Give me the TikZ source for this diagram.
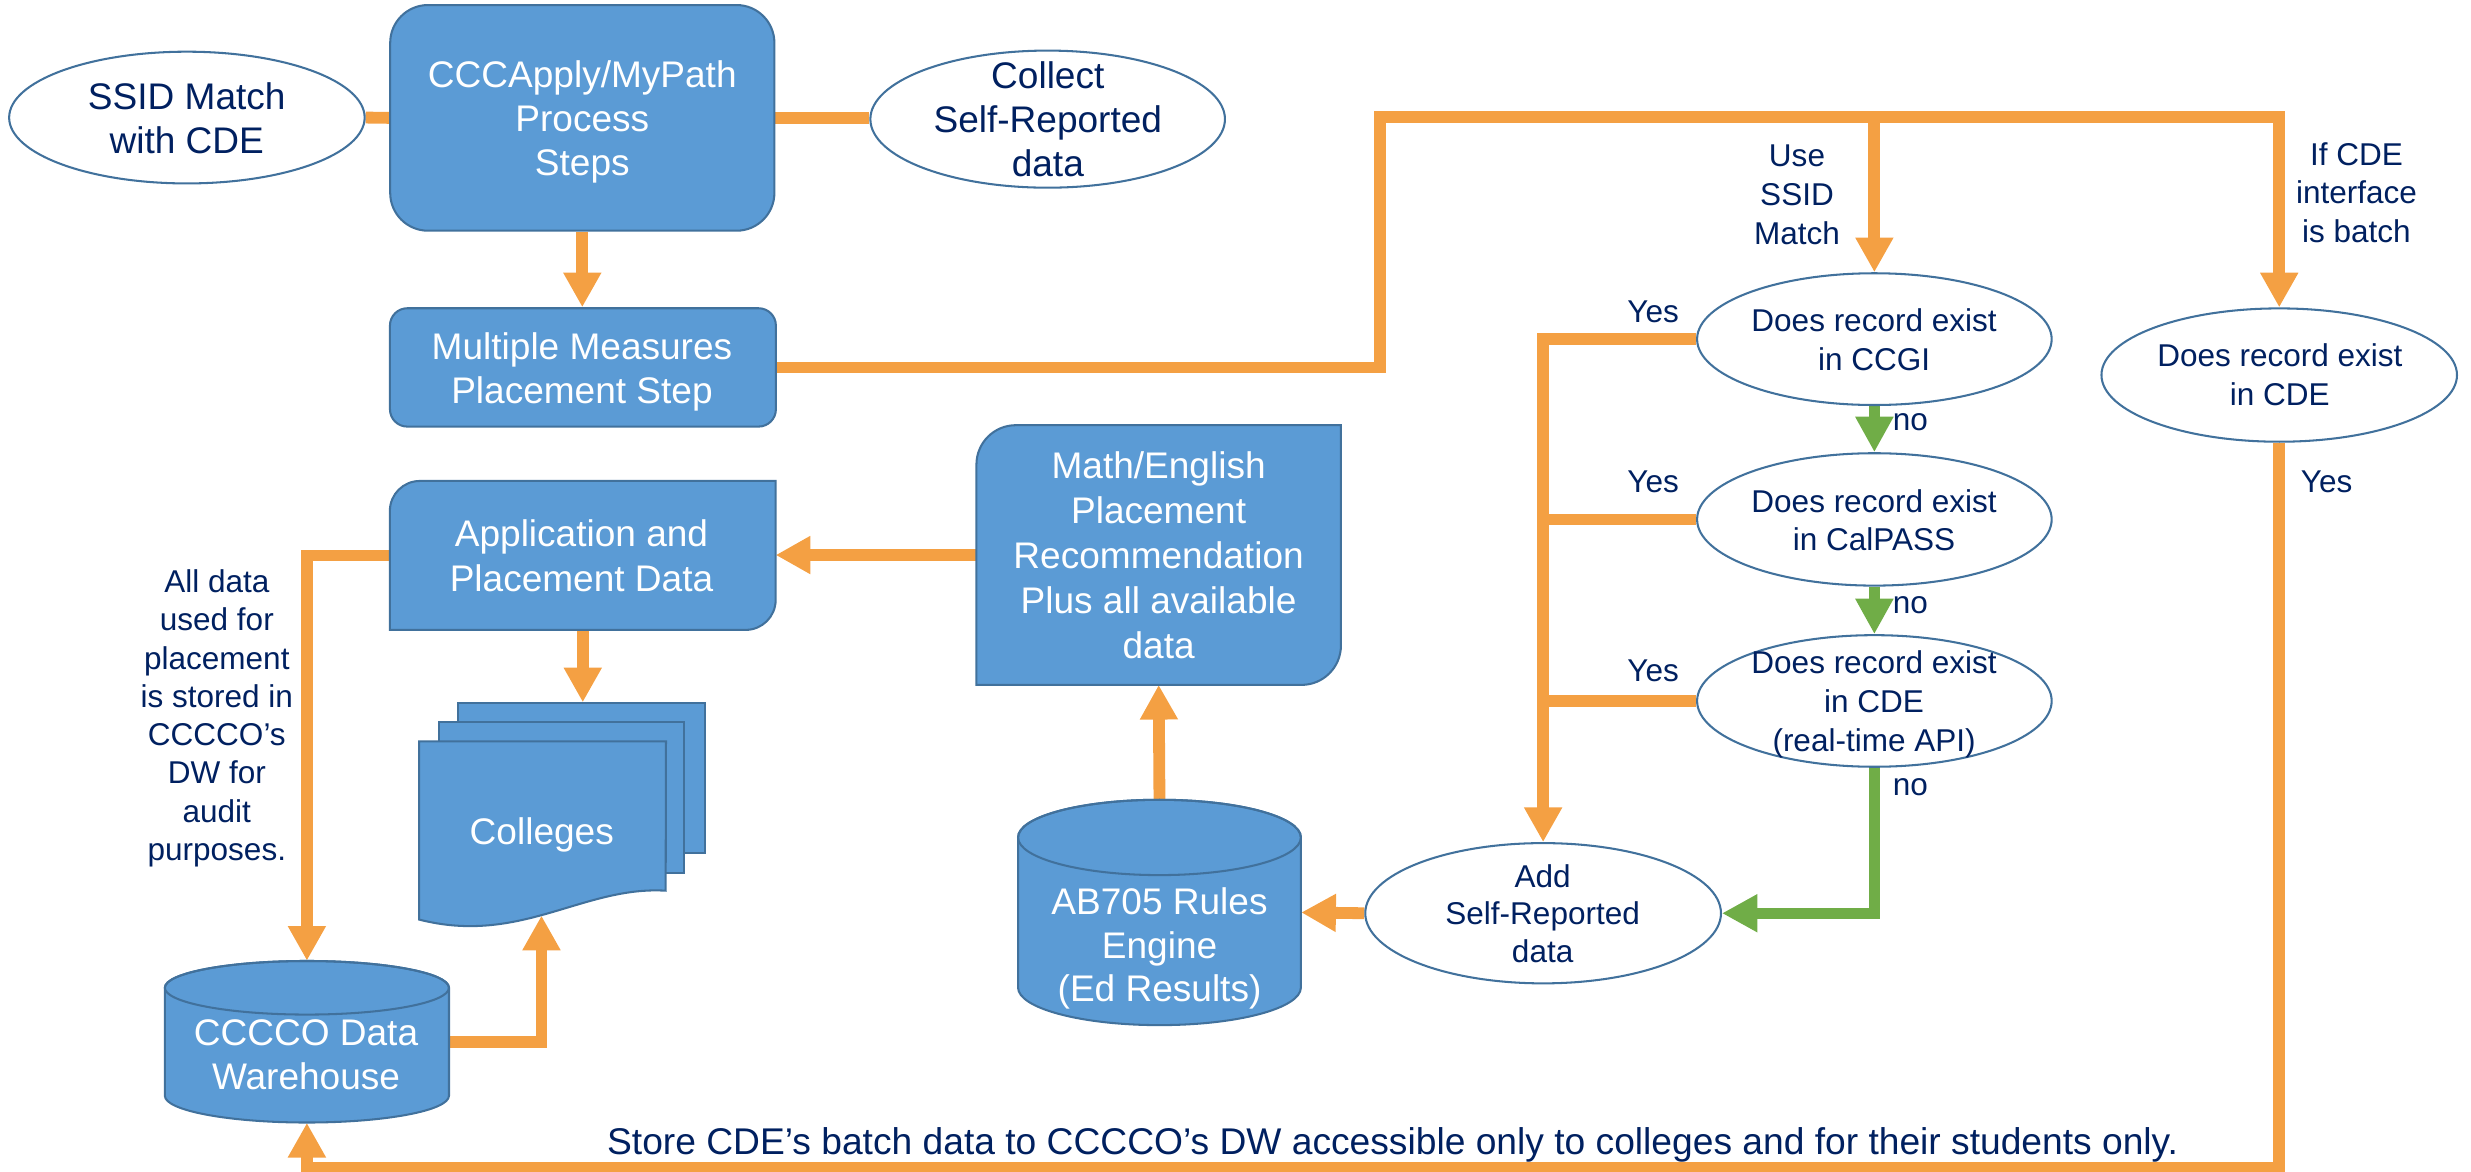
\documentclass[tikz,border=0pt]{standalone}
\usepackage{fontspec}
\setmainfont{Liberation Sans}
\usetikzlibrary{arrows.meta,shapes.geometric,calc}
\definecolor{bfill}{HTML}{5B9BD5}
\definecolor{bline}{HTML}{41719C}
\definecolor{orng}{HTML}{F4A043}
\definecolor{grn}{HTML}{70AD47}
\definecolor{navy}{HTML}{002060}
\pgfdeclarelayer{bg}
\pgfsetlayers{bg,main}
\tikzset{
  bluebox/.style={draw=bline, fill=bfill, line width=1.3pt, inner sep=0pt},
  oval/.style={ellipse, draw=bline, fill=white, line width=1.3pt, inner sep=0pt},
  region/.style={rectangle, inner sep=0pt, draw=none},
  wtext/.style={text=white, align=center, inner sep=0pt, font=\fontsize{23.5pt}{28.3pt}\selectfont},
  nbig/.style={text=navy, align=center, inner sep=0pt, font=\fontsize{23.5pt}{28.3pt}\selectfont},
  ntext/.style={text=navy, align=center, inner sep=0pt, font=\fontsize{20pt}{24.4pt}\selectfont},
  oline/.style={draw=orng, line width=7.5pt},
  oarrow/.style={oline, -{Triangle[width=22.7pt,length=22pt]}},
  garrow/.style={draw=grn, line width=7pt, -{Triangle[width=22.7pt,length=22.5pt]}},
}
\begin{document}
\begin{tikzpicture}[x=1pt,y=-1pt]
\useasboundingbox (0,0) rectangle (1568,743.7);

% ---------- shapes ----------
\node[bluebox, rounded corners=24pt, minimum width=243.8pt, minimum height=143.2pt] (ccc) at (369.5,74.8) {};
\node[bluebox, rounded corners=11pt, minimum width=244.9pt, minimum height=75.1pt] (mm) at (369.9,233.15) {};
\node[oval, minimum width=225.6pt, minimum height=83.6pt] (ssid) at (118.6,74.6) {};
\node[oval, minimum width=225pt, minimum height=87pt] (coll) at (664.8,75.6) {};
\node[oval, minimum width=225pt, minimum height=83.6pt] (ccgi) at (1189.4,215.2) {};
\node[oval, minimum width=225pt, minimum height=84pt] (calp) at (1189.4,329.6) {};
\node[oval, minimum width=225pt, minimum height=83.5pt] (cdert) at (1189.4,444.8) {};
\node[oval, minimum width=225.6pt, minimum height=84.6pt] (cdeb) at (1446.3,238) {};
\node[oval, minimum width=225.7pt, minimum height=89pt] (adds) at (979.2,579.5) {};

\node[region, minimum width=244.4pt, minimum height=94.1pt] (app) at (369.8,352.45) {};
\node[region, minimum width=230.9pt, minimum height=164.4pt] (math) at (735.25,352.2) {};
\node[region, minimum width=179.5pt, minimum height=143pt] (ab) at (735.75,579) {};
\node[region, minimum width=180.3pt, minimum height=102.5pt] (dw) at (194.75,661.05) {};
\node[bluebox, minimum width=156.5pt, minimum height=95.2pt] (colb) at (369.05,493.9) {};
\node[bluebox, minimum width=155.2pt, minimum height=95.4pt] (colm) at (356.4,506) {};
\node[region, minimum width=156.3pt, minimum height=112.7pt] (colf) at (344.25,526.95) {};

% application and math boxes: round diagonal corners
\filldraw[bluebox] ($(app.north west)+(0,19)$) arc[start angle=180,end angle=90,radius=19pt]
  -- (app.north east) -- ($(app.south east)+(0,-19)$) arc[start angle=0,end angle=-90,radius=19pt]
  -- (app.south west) -- cycle;
\filldraw[bluebox] ($(math.north west)+(0,25)$) arc[start angle=180,end angle=90,radius=25pt]
  -- (math.north east) -- ($(math.south east)+(0,-25)$) arc[start angle=0,end angle=-90,radius=25pt]
  -- (math.south west) -- cycle;

% colleges front page (document shape)
\filldraw[bluebox] (colf.north west) -- (colf.north east) -- (422.4,565.2)
  .. controls (370,562) and (330,600) .. (colf.south west) -- cycle;

% cylinders
\filldraw[bluebox] (646,531.4) -- (646,626.6) arc[start angle=180,end angle=360,x radius=89.75pt,y radius=23.9pt]
  -- (825.5,531.4) arc[start angle=0,end angle=180,x radius=89.75pt,y radius=23.9pt] -- cycle;
\draw[draw=bline,line width=1.3pt] (735.75,531.4) ellipse[x radius=89.75pt,y radius=23.9pt];
\filldraw[bluebox] (104.6,626.8) -- (104.6,695.3) arc[start angle=180,end angle=360,x radius=90.15pt,y radius=17pt]
  -- (284.9,626.8) arc[start angle=0,end angle=180,x radius=90.15pt,y radius=17pt] -- cycle;
\draw[draw=bline,line width=1.3pt] (194.75,626.8) ellipse[x radius=90.15pt,y radius=17pt];

% ---------- connectors ----------
\coordinate (j1) at (875.9,74);
\coordinate (colin) at (343.6,581);
\coordinate (bot) at (1446.3,741);
\begin{pgfonlayer}{bg}
\draw[oline] (ssid.east) -- (ccc.west);
\draw[oline] (ccc.east) -- (ccc.east -| coll.west);
\draw[oarrow] (ccc.south) -- (ccc.south |- mm.north);
\draw[oarrow] (mm.east) -| (j1) -| (cdeb.north);
\draw[oarrow] (j1 -| ccgi.north) -- (ccgi.north);
\draw[garrow] (ccgi.south) -- (calp.north);
\draw[garrow] (calp.south) -- (cdert.north);
\draw[garrow] (cdert.south) |- (adds.east);
\draw[oarrow] (ccgi.west) -| (adds.north);
\draw[oline] (calp.west) -- (calp.west -| adds.north);
\draw[oline] (cdert.west) -- (cdert.west -| adds.north);
\draw[oarrow] (adds.west) -- (ab.east);
\draw[oarrow] (ab.north) -- (math.south);
\draw[oarrow] (math.west) -- (math.west -| app.east);
\draw[oarrow] (app.south) -- (app.south |- colb.north);
\draw[oarrow] (app.west) -| (dw.north);
\draw[oarrow] (dw.east) -| (colin);
\draw[oarrow] (cdeb.south) -- (bot) -| (dw.south);
\end{pgfonlayer}

% ---------- texts ----------
\node[wtext, font=\fontsize{23.5pt}{28.15pt}\selectfont] (tccc) at (369.5,77.45) {CCCApply/MyPath\\Process\\Steps};
\node[wtext, font=\fontsize{23.5pt}{28pt}\selectfont] (tmm) at (369.3,236.05) {Multiple Measures\\Placement Step};
\node[nbig] (tssid) at (118.5,75.15) {SSID Match\\with CDE};
\node[nbig, font=\fontsize{23.5pt}{28pt}\selectfont] (tcoll) at (664.9,75.6) {Collect\\Self-Reported\\data};
\node[ntext, font=\fontsize{20pt}{24.85pt}\selectfont] (tuse) at (1140.3,123.5) {Use\\SSID\\Match};
\node[ntext] (tif) at (1495.3,122.25) {If CDE\\interface\\is batch};
\node[ntext] (tccgi) at (1189.2,215.45) {Does record exist\\in CCGI};
\node[ntext] (tcdeb) at (1446.7,237.7) {Does record exist\\in CDE};
\node[ntext] (tcalp) at (1189.2,330.05) {Does record exist\\in CalPASS};
\node[ntext, font=\fontsize{20pt}{24.5pt}\selectfont] (tcdert) at (1189.2,446.9) {Does record exist\\in CDE\\(real-time API)};
\node[ntext, font=\fontsize{20pt}{24pt}\selectfont] (tadd) at (978.9,579.8) {Add\\Self-Reported\\data};
\node[wtext, font=\fontsize{23.5pt}{28.5pt}\selectfont] (tmath) at (735.2,352.25) {Math/English\\Placement\\Recommendation\\Plus all available\\data};
\node[wtext, font=\fontsize{23.5pt}{27.65pt}\selectfont] (tab) at (735.8,602) {AB705 Rules\\Engine\\(Ed Results)};
\node[wtext] (tapp) at (369,352.85) {Application and\\Placement Data};
\node[wtext] (tcol) at (343.8,529.85) {Colleges};
\node[wtext] (tdw) at (194.2,669.35) {CCCCO Data\\Warehouse};
\node[ntext, font=\fontsize{20pt}{24.26pt}\selectfont] (tall) at (137.6,455.85) {All data\\used for\\placement\\is stored in\\CCCCO’s\\DW for\\audit\\purposes.};
\node[ntext] (yes1) at (1049,197.85) {Yes};
\node[ntext] (yes2) at (1049,305.7) {Yes};
\node[ntext] (yes3) at (1049,425.6) {Yes};
\node[ntext] (yes4) at (1476.4,305.9) {Yes};
\node[ntext] (no1) at (1212.3,267.6) {no};
\node[ntext] (no2) at (1212.3,384.2) {no};
\node[ntext] (no3) at (1212.3,499.2) {no};
\node[nbig, font=\fontsize{23.6pt}{28pt}\selectfont] (tbot) at (883.7,726.8) {Store CDE’s batch data to CCCCO’s DW accessible only to colleges and for their students only.};
\end{tikzpicture}
\end{document}
